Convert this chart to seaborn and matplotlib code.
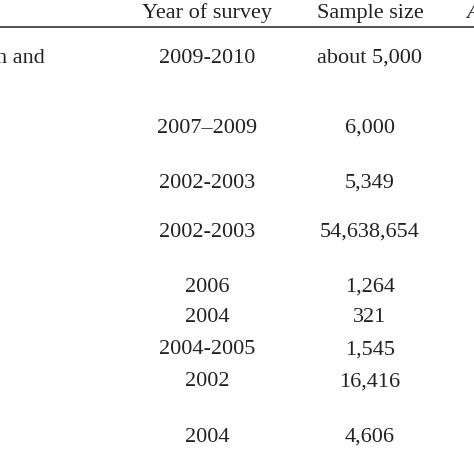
import matplotlib
matplotlib.use("Agg")
import matplotlib.pyplot as plt
import seaborn as sns

sns.set_theme(style="white")
plt.rcParams['font.family'] = ['Liberation Serif', 'DejaVu Serif']

# Table content (cropped view)
headers = ["Year of survey", "Sample size", "A"]
years = ["2009-2010", "2007\u20132009", "2002-2003", "2002-2003", "2006", "2004",
         "2004-2005", "2002", "2004"]
samples = ["about 5,000", "6,000", "5,349", "54,638,654", "1,264", "321",
           "1,545", "16,416", "4,606"]
row_y = [58, 128, 183, 232, 287, 318, 350, 382, 437]

fig = plt.figure(figsize=(4.74, 4.74), dpi=100)
ax = fig.add_axes([0, 0, 1, 1])
ax.set_xlim(0, 474)
ax.set_ylim(474, 0)
ax.axis("off")

col_x = [207, 370, 466]
fs = 16
color = "#222222"
for x, h in zip(col_x, headers):
    ax.text(x, 13, h, ha="center" if h != "A" else "left", va="center",
            fontsize=fs, color=color, style="italic" if h == "A" else "normal")
ax.axhline(27, color="#444444", lw=1.3)

# partially visible first-column text
ax.text(-4, 58, "n and", ha="left", va="center", fontsize=fs, color=color)
for y, yr, s in zip(row_y, years, samples):
    ax.text(col_x[0], y, yr, ha="center", va="center", fontsize=fs, color=color)
    ax.text(col_x[1], y, s, ha="center", va="center", fontsize=fs, color=color)

fig.savefig("out.png", dpi=100)
